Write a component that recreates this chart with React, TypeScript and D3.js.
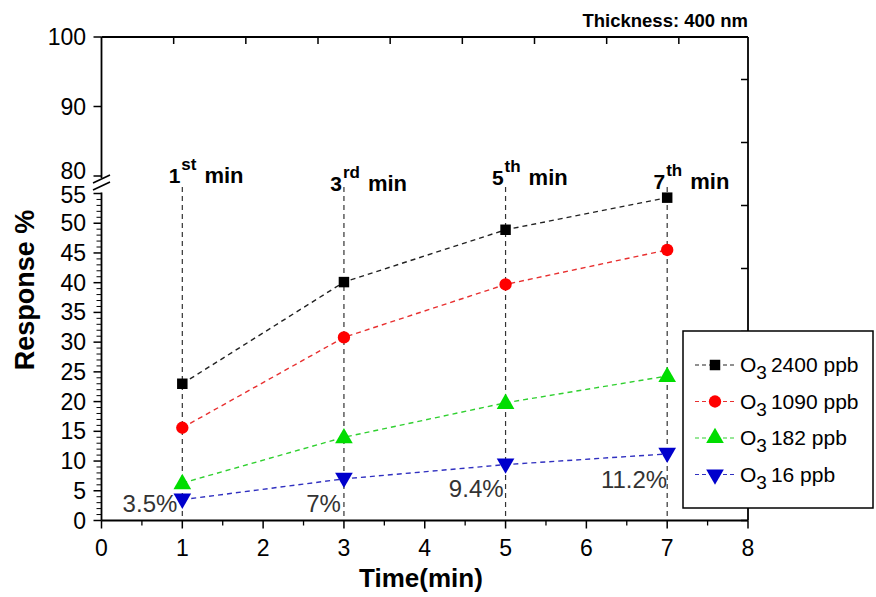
import React from 'react';
import * as d3 from 'd3';

// ---------- data ----------
const times = [1, 3, 5, 7];
const seriesNames = ['2400 ppb', '1090 ppb', '182 ppb', '16 ppb'];
const o3_2400 = [23.0, 40.1, 48.9, 54.3];
const o3_1090 = [15.6, 30.8, 39.7, 45.5];
const o3_182 = [6.3, 14.0, 19.8, 24.3];
const o3_16 = [3.5, 7.0, 9.4, 11.2];
const percentLabels = ['3.5%', '7%', '9.4%', '11.2%'];
const minuteNums = ['1', '3', '5', '7'];
const minuteSups = ['st', 'rd', 'th', 'th'];
const xTicks = [0, 1, 2, 3, 4, 5, 6, 7, 8];
const yLowTicks = [0, 5, 10, 15, 20, 25, 30, 35, 40, 45, 50, 55];
const yHighTicks = [80, 90, 100];

// ---------- layout ----------
const W = 876;
const H = 597;
const L = 101.5;
const R = 748;
const T = 37;
const B = 520.5;
const breakLow = 193.5;
const breakHigh = 176;
const minuteLabelY = [183, 191, 185, 189];
const percentLabelY = [512, 512, 497, 488];
const percentLabelDx = [-5, -3, -2, 0];

const FONT = 'Liberation Sans, Arial, Helvetica, sans-serif';

const x = d3.scaleLinear().domain([0, 8]).range([L, R]);
const yLow = d3.scaleLinear().domain([0, 55]).range([B, breakLow]);
const yHigh = d3.scaleLinear().domain([80, 100]).range([breakHigh, T]);
const xTop = d3.scaleLinear().domain([0, 9]).range([L, R + 3]);
const yRight = d3.scaleLinear().domain([0, 1]).range([B, B - 63]);

const colors = ['#000000', '#ff0000', '#00dd00', '#0000cc'];
const lineColors = ['#222222', '#e83030', '#30d030', '#3030c0'];
const symbols = [d3.symbolSquare, d3.symbolCircle, d3.symbolTriangle, d3.symbolTriangle];
const symSizes = [110, 120, 135, 135];
const rotations = [0, 0, 0, 180];
const allSeries = [o3_2400, o3_1090, o3_182, o3_16];

export default function App() {
  const line = d3
    .line<[number, number]>()
    .x((d) => x(d[0]))
    .y((d) => yLow(d[1]));

  const minorY = d3.range(0, 56, 1).filter((v) => v % 5 !== 0);
  const minorX = d3.range(0.5, 8, 1);
  const rightTicks = d3.range(0, 8);
  const topTicks = d3.range(1, 9);

  return (
    <svg
      width={W}
      height={H}
      style={{ position: 'absolute', left: 0, top: 0, background: '#fff' }}
      fontFamily={FONT}
    >
      <rect x={0} y={0} width={W} height={H} fill="#fff" />

      {/* title */}
      <text x={R} y={27} textAnchor="end" fontSize={18.5} fontWeight="bold">
        Thickness: 400 nm
      </text>

      {/* vertical dashed guide lines */}
      {times.map((t, i) => (
        <line
          key={'v' + i}
          x1={x(t)}
          x2={x(t)}
          y1={187}
          y2={B}
          stroke="#333"
          strokeWidth={1.2}
          strokeDasharray="5,4"
        />
      ))}

      {/* frame: top & right */}
      <line x1={L} x2={R} y1={T} y2={T} stroke="#000" strokeWidth={1.8} />
      <line x1={R} x2={R} y1={T} y2={B} stroke="#000" strokeWidth={1.8} />
      {topTicks.map((v) => (
        <line key={'tt' + v} x1={xTop(v)} x2={xTop(v)} y1={T} y2={T + 7} stroke="#000" strokeWidth={1.5} />
      ))}
      {rightTicks.map((v) => (
        <line key={'rt' + v} x1={R} x2={R - 7} y1={yRight(v)} y2={yRight(v)} stroke="#000" strokeWidth={1.5} />
      ))}

      {/* bottom axis */}
      <line x1={L} x2={R} y1={B} y2={B} stroke="#000" strokeWidth={1.8} />
      {xTicks.map((v) => (
        <g key={'xt' + v}>
          <line x1={x(v)} x2={x(v)} y1={B} y2={B + 8} stroke="#000" strokeWidth={1.5} />
          <text x={x(v)} y={556} textAnchor="middle" fontSize={23}>
            {v}
          </text>
        </g>
      ))}
      {minorX.map((v) => (
        <line key={'xm' + v} x1={x(v)} x2={x(v)} y1={B} y2={B + 5} stroke="#000" strokeWidth={1.3} />
      ))}

      {/* left axis, lower segment */}
      <line x1={L} x2={L} y1={B} y2={breakLow - 1} stroke="#000" strokeWidth={1.8} />
      {yLowTicks.map((v) => (
        <g key={'yl' + v}>
          <line x1={L} x2={L - 8} y1={yLow(v)} y2={yLow(v)} stroke="#000" strokeWidth={1.5} />
          <text x={86} y={yLow(v) + (v === 55 ? 9 : 8)} textAnchor="end" fontSize={23}>
            {v}
          </text>
        </g>
      ))}
      {minorY.map((v) => (
        <line key={'ym' + v} x1={L} x2={L - 5} y1={yLow(v)} y2={yLow(v)} stroke="#000" strokeWidth={1} />
      ))}

      {/* left axis, upper segment */}
      <line x1={L} x2={L} y1={T} y2={breakHigh + 2} stroke="#000" strokeWidth={1.8} />
      {yHighTicks.map((v) => (
        <g key={'yh' + v}>
          <line x1={L} x2={L - 8} y1={yHigh(v)} y2={yHigh(v)} stroke="#000" strokeWidth={1.5} />
          <text x={86} y={yHigh(v) + (v === 80 ? 3 : 8)} textAnchor="end" fontSize={23}>
            {v}
          </text>
        </g>
      ))}

      {/* break marks */}
      <line x1={93} x2={110} y1={183} y2={175} stroke="#000" strokeWidth={1.6} />
      <line x1={93} x2={110} y1={190} y2={182} stroke="#000" strokeWidth={1.6} />

      {/* series lines */}
      {allSeries.map((vals, si) => (
        <path
          key={'l' + si}
          d={line(times.map((t, i) => [t, vals[i]] as [number, number])) || ''}
          fill="none"
          stroke={lineColors[si]}
          strokeWidth={1.4}
          strokeDasharray="5,4"
        />
      ))}

      {/* markers */}
      {allSeries.map((vals, si) =>
        times.map((t, i) => (
          <path
            key={'m' + si + '-' + i}
            d={d3.symbol().type(symbols[si]).size(symSizes[si])() || ''}
            transform={`translate(${x(t)},${yLow(vals[i]) + (si === 2 ? 1 : si === 3 ? -1 : 0)}) rotate(${rotations[si]})`}
            fill={colors[si]}
          />
        ))
      )}

      {/* minute labels */}
      {times.map((t, i) => (
        <g key={'ml' + i}>
          <text x={x(t) - 2} y={minuteLabelY[i]} textAnchor="end" fontSize={21} fontWeight="bold">
            {minuteNums[i]}
          </text>
          <text x={x(t) - 1} y={minuteLabelY[i]} fontSize={22} fontWeight="bold">
            <tspan fontSize={17} dy={-13}>
              {minuteSups[i]}
            </tspan>
            <tspan dy={13} dx={8}>
              min
            </tspan>
          </text>
        </g>
      ))}

      {/* percent labels */}
      {times.map((t, i) => (
        <text
          key={'pl' + i}
          x={x(t) + percentLabelDx[i]}
          y={percentLabelY[i]}
          textAnchor="end"
          fontSize={24}
          fill="#333"
        >
          {percentLabels[i]}
        </text>
      ))}

      {/* axis titles */}
      <text x={421} y={587} textAnchor="middle" fontSize={26} fontWeight="bold">
        Time(min)
      </text>
      <text
        transform="translate(34,290) rotate(-90)"
        textAnchor="middle"
        fontSize={27}
        fontWeight="bold"
      >
        Response %
      </text>

      {/* legend */}
      <rect x={683} y={331} width={190} height={177} fill="#fff" stroke="#000" strokeWidth={1.5} />
      {seriesNames.map((name, si) => {
        const cy = 365 + si * 36.5;
        return (
          <g key={'lg' + si}>
            <line
              x1={695}
              x2={737}
              y1={cy}
              y2={cy}
              stroke={lineColors[si]}
              strokeWidth={1.2}
              strokeDasharray="4,3"
            />
            <path
              d={d3.symbol().type(symbols[si]).size(symSizes[si])() || ''}
              transform={`translate(715,${cy}) rotate(${rotations[si]})`}
              fill={colors[si]}
            />
            <text x={740} y={cy + 7} fontSize={21}>
              O
              <tspan fontSize={19} dy={7}>
                3
              </tspan>
              <tspan dy={-7} dx={4}>
                {name}
              </tspan>
            </text>
          </g>
        );
      })}
    </svg>
  );
}
